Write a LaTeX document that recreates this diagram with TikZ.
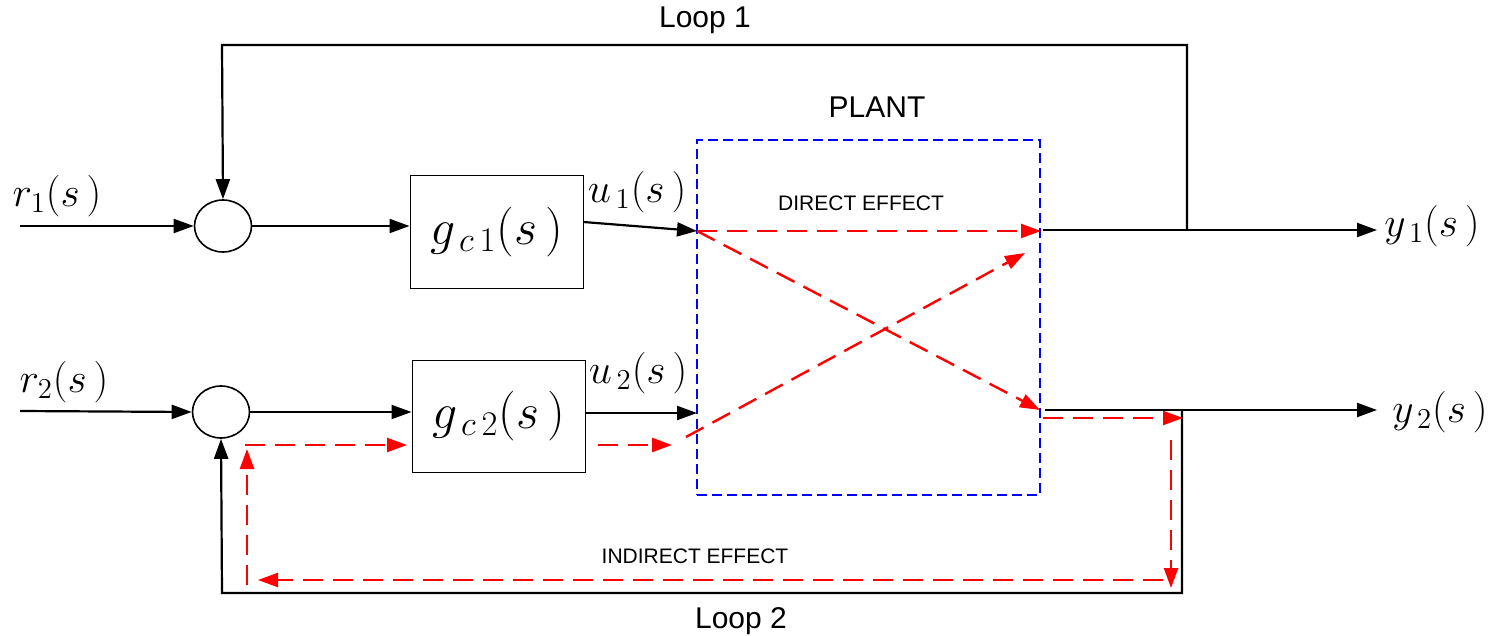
\documentclass[tikz,border=0pt]{standalone}
\usepackage{fontspec}
\setmainfont{Liberation Sans}
\usetikzlibrary{arrows.meta,shapes.geometric}
\newcommand{\sgl}[2]{$#1_{#2}(s\,)$}
\newcommand{\gcl}[1]{$g_{\,c\,#1}(s\,)$}
\tikzset{
  sig/.style={line width=1.1pt,black},
  tipk/.style={-{Triangle[length=10pt,width=7pt]}},
  sumnode/.style={draw,ellipse,line width=0.8pt,minimum width=28.5pt,minimum height=26pt,inner sep=0pt},
  blk/.style={draw,line width=0.5pt,minimum width=86.5pt,minimum height=56pt,inner sep=0pt,font=\fontsize{23.5}{23.5}\selectfont},
  plantbox/.style={draw=blue,line width=1.2pt,dash pattern=on 5pt off 2.5pt,minimum width=171.5pt,minimum height=177.5pt,inner sep=0pt},
  red/.style={draw=red,line width=1.2pt,dash pattern=on 10pt off 5pt},
  redtip/.style={-{Triangle[length=10pt,width=7pt]},red},
  siglab/.style={font=\fontsize{21}{21}\selectfont,inner sep=0pt},
  biglab/.style={font=\fontsize{15}{15}\selectfont,inner sep=0pt},
  smalllab/.style={font=\fontsize{10.5}{10.5}\selectfont,inner sep=0pt}
}
\begin{document}
\begin{tikzpicture}[x=0.5pt,y=-0.5pt]
\useasboundingbox[fill=white] (0,0) rectangle (1497,636);
% nodes
\node[sumnode] (s1) at (223,226) {};
\node[sumnode] (s2) at (221,412) {};
\node[blk] (g1) at (496.5,232) {\gcl{1}};
\node[blk] (g2) at (498.5,416) {\gcl{2}};
\node[plantbox] (P) at (868.5,317.5) {};
% coordinates
\coordinate (in1) at (20,226);
\coordinate (in2) at (20,411);
\coordinate (pin1) at (697,231);
\coordinate (pin2) at (697,413);
\coordinate (pout1) at (1041,231);
\coordinate (pout2) at (1040,410);
\coordinate (o1s) at (1043,230);
\coordinate (o2s) at (1045,410);
\coordinate (y1) at (1377,230);
\coordinate (y2) at (1377,410);
\coordinate (t1) at (222,45);
\coordinate (t2) at (1187,45);
\coordinate (j1) at (1187,230);
\coordinate (j2) at (1182,410);
\coordinate (b2) at (1182,593);
\coordinate (b1) at (222,593);
% labels
\node[biglab] (L1) at (705,20) {Loop 1};
\node[biglab] (L2) at (741,621) {Loop 2};
\node[biglab] (PL) at (877,107) {PLANT};
\node[smalllab] (DE) at (861,203) {DIRECT EFFECT};
\node[smalllab] (IE) at (695,556) {INDIRECT EFFECT};
\node[siglab] (r1l) at (57,196) {\sgl{r}{1}};
\node[siglab] (r2l) at (64,382) {\sgl{r}{2}};
\node[siglab] (u1l) at (637,192) {\sgl{u}{\,1}};
\node[siglab] (u2l) at (638,373) {\sgl{u}{\,2}};
\node[siglab] (y1l) at (1432,226) {\sgl{y}{\,1}};
\node[siglab] (y2l) at (1440,412) {\sgl{y}{\,2}};
% black signal lines
\draw[sig,tipk] (in1) -- (s1.west);
\draw[sig,tipk] (in2) -- (s2.west);
\draw[sig,tipk] (s1.east) -- (s1.east -| g1.west);
\draw[sig,tipk] (s2.east) -- (s2.east -| g2.west);
\draw[sig,tipk] ([yshift=5pt]g1.east) -- (pin1);
\draw[sig,tipk] (g2.east |- pin2) -- (pin2);
\draw[sig,tipk] (o1s) -- (y1);
\draw[sig,tipk] (o2s) -- (y2);
\draw[sig,tipk] (j1) -- (t2) -- (t1) -- (s1.north);
\draw[sig,tipk] (j2) -- (b2) -- (b1) -- (s2.south);
% red effect paths
\coordinate (c1) at (686,437);
\coordinate (c2) at (1025,253);
\coordinate (d1) at (598,445);
\coordinate (d2) at (672,445);
\coordinate (e1) at (245,445);
\coordinate (e2) at (407,445);
\coordinate (f1) at (247,585);
\coordinate (f2) at (247,449);
\coordinate (h1) at (1043,418);
\coordinate (h2) at (1183,418);
\coordinate (k1) at (1171,440);
\coordinate (k2) at (1171,588);
\coordinate (m1) at (1163,580);
\coordinate (m2) at (258,580);
\draw[red,redtip] (pin1) -- (pout1);
\draw[red,redtip] (pin1) -- (pout2);
\draw[red,redtip] (c1) -- (c2);
\draw[red,redtip] (d1) -- (d2);
\draw[red,redtip] (e1) -- (e2);
\draw[red,redtip] (f1) -- (f2);
\draw[red,redtip] (h1) -- (h2);
\draw[red,redtip] (k1) -- (k2);
\draw[red,redtip] (m1) -- (m2);
\end{tikzpicture}
\end{document}
